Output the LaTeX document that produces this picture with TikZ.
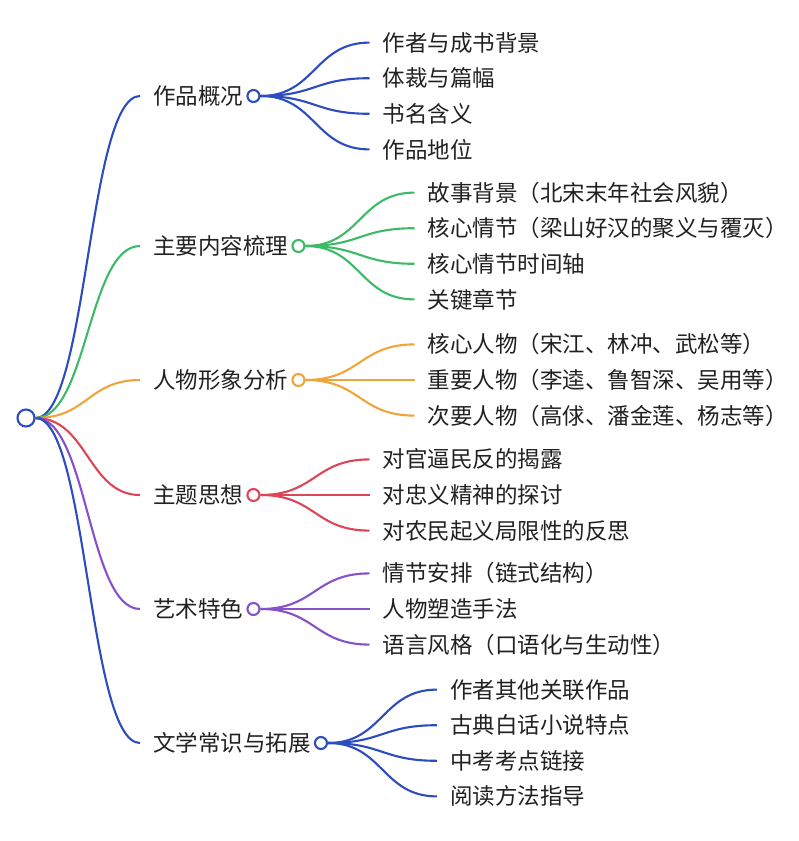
\documentclass[tikz,border=0pt]{standalone}
\usepackage{fontspec}
\newfontfamily\cjk{Noto Sans CJK SC}
\usetikzlibrary{positioning}
\definecolor{mblue}{HTML}{2C4CC0}
\definecolor{mgreen}{HTML}{3DBA68}
\definecolor{morange}{HTML}{EFA53A}
\definecolor{mred}{HTML}{DC4656}
\definecolor{mpurple}{HTML}{8652C8}
\tikzset{
  txt/.style={font=\cjk\fontsize{22.5}{27}\selectfont,text=black!87,inner sep=0pt,anchor=west},
  knot/.style={circle,draw=#1,line width=2.1pt,fill=white,minimum size=12pt,inner sep=0pt},
  link/.style={line width=2.1pt},
}
\begin{document}
\begin{tikzpicture}[x=1pt,y=-1pt]
\useasboundingbox (0,0) rectangle (799,841);
\node[knot=mblue,minimum size=17pt] (root) at (26,418) {};

% branches
\node[txt] (b1) at (153,96) {作品概况};
\node[txt] (b2) at (153,246) {主要内容梳理};
\node[txt] (b3) at (153,380) {人物形象分析};
\node[txt] (b4) at (153,495) {主题思想};
\node[txt] (b5) at (153,609) {艺术特色};
\node[txt] (b6) at (153,743) {文学常识与拓展};
\foreach \b/\c in {b1/mblue,b2/mgreen,b3/morange,b4/mred,b5/mpurple,b6/mblue} {
  \coordinate[left=13pt of \b] (\b in);
  \node[knot=\c,right=3pt of \b] (\b c) {};
  \draw[link,\c] (root.east) .. controls +(52,0) and +(-52,0) .. (\b in);
}

% leaves
\foreach \t [count=\i] in {作者与成书背景,体裁与篇幅,书名含义,作品地位} {
  \node[txt] (b1l\i) at ([xshift=122pt,yshift={-35.6*(\i-2.5)}]b1c.east) {\t};
  \draw[link,mblue] (b1c.east) .. controls +(55,0) and +(-55,0) .. ([xshift=-13pt]b1l\i.west);
}
\foreach \t [count=\i] in {故事背景（北宋末年社会风貌）,核心情节（梁山好汉的聚义与覆灭）,核心情节时间轴,关键章节} {
  \node[txt] (b2l\i) at ([xshift=122pt,yshift={-35.6*(\i-2.5)}]b2c.east) {\t};
  \draw[link,mgreen] (b2c.east) .. controls +(55,0) and +(-55,0) .. ([xshift=-13pt]b2l\i.west);
}
\foreach \t [count=\i] in {核心人物（宋江、林冲、武松等）,重要人物（李逵、鲁智深、吴用等）,次要人物（高俅、潘金莲、杨志等）} {
  \node[txt] (b3l\i) at ([xshift=122pt,yshift={-35.6*(\i-2)}]b3c.east) {\t};
  \draw[link,morange] (b3c.east) .. controls +(55,0) and +(-55,0) .. ([xshift=-13pt]b3l\i.west);
}
\foreach \t [count=\i] in {对官逼民反的揭露,对忠义精神的探讨,对农民起义局限性的反思} {
  \node[txt] (b4l\i) at ([xshift=122pt,yshift={-35.6*(\i-2)}]b4c.east) {\t};
  \draw[link,mred] (b4c.east) .. controls +(55,0) and +(-55,0) .. ([xshift=-13pt]b4l\i.west);
}
\foreach \t [count=\i] in {情节安排（链式结构）,人物塑造手法,语言风格（口语化与生动性）} {
  \node[txt] (b5l\i) at ([xshift=122pt,yshift={-35.6*(\i-2)}]b5c.east) {\t};
  \draw[link,mpurple] (b5c.east) .. controls +(55,0) and +(-55,0) .. ([xshift=-13pt]b5l\i.west);
}
\foreach \t [count=\i] in {作者其他关联作品,古典白话小说特点,中考考点链接,阅读方法指导} {
  \node[txt] (b6l\i) at ([xshift=122pt,yshift={-35.6*(\i-2.5)}]b6c.east) {\t};
  \draw[link,mblue] (b6c.east) .. controls +(55,0) and +(-55,0) .. ([xshift=-13pt]b6l\i.west);
}
\end{tikzpicture}
\end{document}
